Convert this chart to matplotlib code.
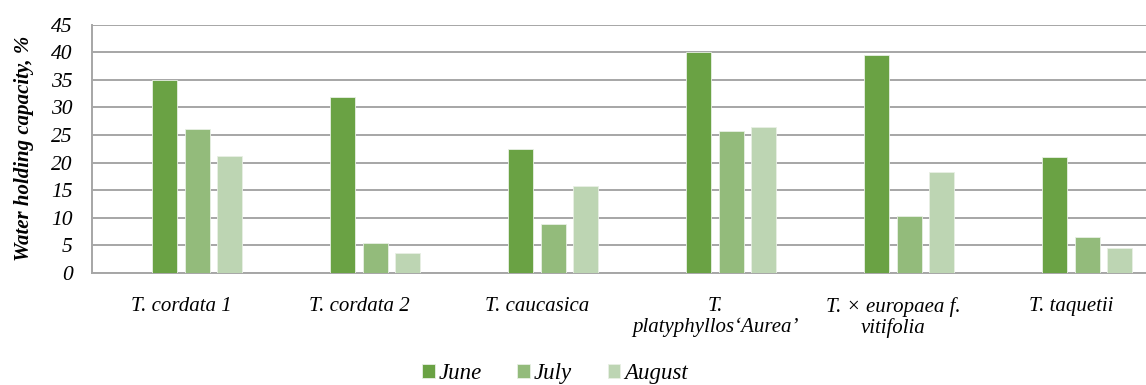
import matplotlib
matplotlib.use("Agg")
import matplotlib.pyplot as plt
import numpy as np

categories = ["T. cordata 1", "T. cordata 2", "T. caucasica",
              "T.\nplatyphyllos\u2018Aurea\u2019", "T. \u00d7 europaea f.\nvitifolia", "T. taquetii"]
series_names = ["June", "July", "August"]
june = [35.0, 31.8, 22.4, 40.1, 39.4, 21.0]
july = [26.1, 5.4, 8.9, 25.8, 10.3, 6.5]
august = [21.2, 3.6, 15.8, 26.4, 18.3, 4.5]
colors = ["#6aa244", "#93bb7b", "#bdd5b3"]
yticks = [0, 5, 10, 15, 20, 25, 30, 35, 40, 45]

plt.rcParams["font.family"] = ["Liberation Serif", "DejaVu Serif"]
plt.rcParams["font.style"] = "italic"

fig = plt.figure(figsize=(11.46, 3.85), dpi=100)
ax = fig.add_axes([92 / 1146, 112 / 385, 1 - 92 / 1146, 248.5 / 385])

x = np.arange(len(categories))
slot = 0.1826
width = 0.14
offsets = [-0.5 * slot, 0.5 * slot, 1.5 * slot]
for vals, name, col, off in zip([june, july, august], series_names, colors, offsets):
    ax.bar(x + off, vals, width=width, color=col, label=name, zorder=3,
           edgecolor="#e8f0e4", linewidth=0.6)

ax.set_xlim(-0.5, (1146 - 92) / 178 - 0.5)
ax.set_ylim(0, 45)
ax.set_yticks(yticks)
ax.set_yticklabels([str(v) for v in yticks], fontsize=15.5, style="italic")
ax.set_xticks(x)
ax.set_xticklabels(categories, fontsize=15, style="italic", linespacing=1.1)
ax.tick_params(axis="both", length=0)
ax.tick_params(axis="y", pad=14)
ax.tick_params(axis="x", pad=17)

ax.yaxis.grid(True, color="#a6a6a6", linewidth=1.4, zorder=0)
ax.set_axisbelow(True)
for side in ["top", "right"]:
    ax.spines[side].set_visible(False)
for side in ["left", "bottom"]:
    ax.spines[side].set_color("#a6a6a6")
    ax.spines[side].set_linewidth(1.4)

ax.set_ylabel("Water holding capacity, %", fontsize=15, fontweight="bold",
              style="italic")
ax.yaxis.set_label_coords(-58 / 1054, 0.5)

fig.legend(loc="center", bbox_to_anchor=(555 / 1146, 11.5 / 385), ncol=3, frameon=False,
           handlelength=0.55, handleheight=0.55, handletextpad=0.17,
           columnspacing=1.55, prop={"style": "italic", "size": 16.5})

fig.savefig("out.png", dpi=100)
